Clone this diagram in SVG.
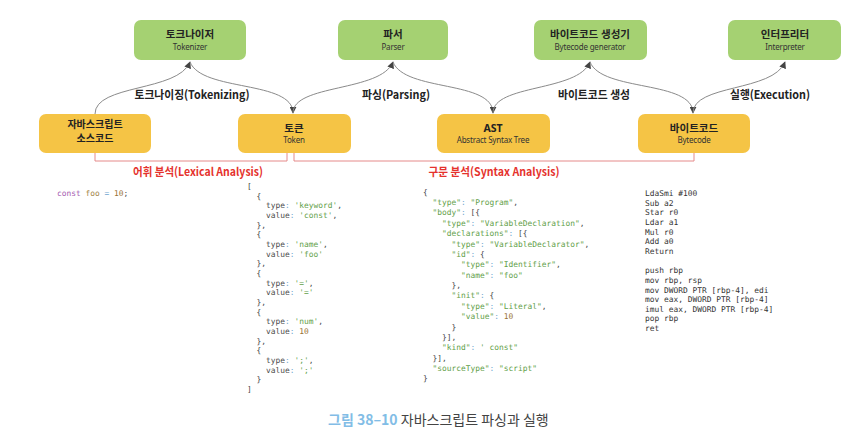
<svg xmlns="http://www.w3.org/2000/svg" width="859" height="438" viewBox="0 0 859 438">
<defs>
<style>
.g{fill:#a5d172}
.y{fill:#f5c445}
.t{font-family:"Noto Sans","Noto Sans CJK KR",sans-serif;font-weight:bold;font-size:10.5px;fill:#222;text-anchor:middle}
.t2{font-family:"Noto Sans","Noto Sans CJK KR",sans-serif;font-weight:bold;font-size:10px;fill:#222;text-anchor:middle}
.s{font-family:"Noto Sans","Noto Sans CJK KR",sans-serif;font-size:8px;fill:#333;text-anchor:middle;letter-spacing:-0.2px}
.l{font-family:"Noto Sans CJK KR","Noto Sans",sans-serif;font-weight:bold;font-size:11.5px;fill:#222;text-anchor:middle}
.r{font-family:"Noto Sans CJK KR","Noto Sans",sans-serif;font-weight:bold;font-size:11.5px;fill:#e5322d;text-anchor:middle}
.c{fill:none;stroke:#8a8a8a;stroke-width:1}
.b{fill:none;stroke:#e58a8a;stroke-width:1}
.m{font-family:"DejaVu Sans Mono","Liberation Mono",monospace;font-size:7.9px;fill:#4a4a4a;white-space:pre}
.a{fill:#333}
.p{fill:#6fa6cf}.q{fill:#5fa048}.n{fill:#9a7234}.v{fill:#a45bb0}.o{fill:#a08040}
</style>
<marker id="ah" viewBox="0 0 10 10" refX="9" refY="5" markerWidth="7" markerHeight="7" orient="auto" markerUnits="userSpaceOnUse">
<path d="M0,0 L10,5 L0,10 z" fill="#444"/>
</marker>
</defs>
<rect width="859" height="438" fill="#fff"/>

<g id="connectors">
<path class="c" d="M95,114 C95,84 178,92 190,62" marker-end="url(#ah)"/>
<path class="c" d="M190,62 C202,92 293,80 293,113" marker-end="url(#ah)"/>
<path class="c" d="M293,113 C293,84 381,92 393,62" marker-end="url(#ah)"/>
<path class="c" d="M393,62 C405,92 493,80 493,113" marker-end="url(#ah)"/>
<path class="c" d="M493,113 C493,84 578,92 590,62" marker-end="url(#ah)"/>
<path class="c" d="M590,62 C602,92 693,80 693,113" marker-end="url(#ah)"/>
<path class="c" d="M693,113 C693,84 773,92 785,62" marker-end="url(#ah)"/>
<path class="b" d="M95,153 V161 H287 V153"/>
<path class="b" d="M294,153 V161 H694 V153"/>
</g>

<g id="tokenizer"><rect class="g" x="134" y="20" width="112" height="40" rx="7"/><text class="t" x="190" y="38">토크나이저</text><text class="s" x="190" y="50">Tokenizer</text></g>
<g id="parser"><rect class="g" x="338" y="20" width="110" height="40" rx="7"/><text class="t" x="393" y="38">파서</text><text class="s" x="393" y="50">Parser</text></g>
<g id="generator"><rect class="g" x="534" y="20" width="113" height="40" rx="7"/><text class="t" x="590" y="38">바이트코드 생성기</text><text class="s" x="590" y="50">Bytecode generator</text></g>
<g id="interpreter"><rect class="g" x="728" y="20" width="113" height="40" rx="7"/><text class="t" x="785" y="38">인터프리터</text><text class="s" x="785" y="50">Interpreter</text></g>

<g id="source"><rect class="y" x="39" y="114" width="112" height="39" rx="7"/><text class="t2" x="95" y="128">자바스크립트</text><text class="t2" x="95" y="142">소스코드</text></g>
<g id="token"><rect class="y" x="238" y="114" width="113" height="39" rx="7"/><text class="t" x="294" y="132">토큰</text><text class="s" x="294" y="143">Token</text></g>
<g id="ast"><rect class="y" x="437" y="114" width="113" height="39" rx="7"/><text class="t" x="493" y="132">AST</text><text class="s" x="493" y="143">Abstract Syntax Tree</text></g>
<g id="bytecode"><rect class="y" x="638" y="114" width="112" height="39" rx="7"/><text class="t" x="694" y="132">바이트코드</text><text class="s" x="694" y="143">Bytecode</text></g>

<g id="labels">
<text class="l" x="192" y="99" textLength="115" lengthAdjust="spacingAndGlyphs">토크나이징(Tokenizing)</text>
<text class="l" x="396" y="99" textLength="68" lengthAdjust="spacingAndGlyphs">파싱(Parsing)</text>
<text class="l" x="594" y="99" textLength="72" lengthAdjust="spacingAndGlyphs">바이트코드 생성</text>
<text class="l" x="770" y="99" textLength="80" lengthAdjust="spacingAndGlyphs">실행(Execution)</text>
<text class="r" x="198" y="176" textLength="130" lengthAdjust="spacingAndGlyphs">어휘 분석(Lexical Analysis)</text>
<text class="r" x="494" y="176" textLength="131" lengthAdjust="spacingAndGlyphs">구문 분석(Syntax Analysis)</text>
</g>

<g id="source-code">
<text class="m" x="57" y="196"><tspan class="v">const</tspan> <tspan class="o">foo</tspan> <tspan class="p">=</tspan> <tspan class="n">10</tspan>;</text>
</g>

<g id="tokens">
<text class="m" x="247" y="189">[</text>
<text class="m" x="247" y="198.7">  {</text>
<text class="m" x="247" y="208.3">    type<tspan class="p">:</tspan> <tspan class="q">'keyword'</tspan>,</text>
<text class="m" x="247" y="218">    value<tspan class="p">:</tspan> <tspan class="q">'const'</tspan>,</text>
<text class="m" x="247" y="227.7">  },</text>
<text class="m" x="247" y="237.4">  {</text>
<text class="m" x="247" y="247">    type<tspan class="p">:</tspan> <tspan class="q">'name'</tspan>,</text>
<text class="m" x="247" y="256.7">    value<tspan class="p">:</tspan> <tspan class="q">'foo'</tspan></text>
<text class="m" x="247" y="266.4">  },</text>
<text class="m" x="247" y="276">  {</text>
<text class="m" x="247" y="285.7">    type<tspan class="p">:</tspan> <tspan class="q">'='</tspan>,</text>
<text class="m" x="247" y="295.4">    value<tspan class="p">:</tspan> <tspan class="q">'='</tspan></text>
<text class="m" x="247" y="305">  },</text>
<text class="m" x="247" y="314.7">  {</text>
<text class="m" x="247" y="324.4">    type<tspan class="p">:</tspan> <tspan class="q">'num'</tspan>,</text>
<text class="m" x="247" y="334">    value<tspan class="p">:</tspan> <tspan class="n">10</tspan></text>
<text class="m" x="247" y="343.7">  },</text>
<text class="m" x="247" y="353.4">  {</text>
<text class="m" x="247" y="363">    type<tspan class="p">:</tspan> <tspan class="q">';'</tspan>,</text>
<text class="m" x="247" y="372.7">    value<tspan class="p">:</tspan> <tspan class="q">';'</tspan></text>
<text class="m" x="247" y="382.4">  }</text>
<text class="m" x="247" y="392">]</text>
</g>

<g id="ast-json">
<text class="m" x="423" y="194.7">{</text>
<text class="m" x="423" y="205.1">  <tspan class="q">"type"</tspan><tspan class="p">:</tspan> <tspan class="q">"Program"</tspan>,</text>
<text class="m" x="423" y="215.4">  <tspan class="q">"body"</tspan><tspan class="p">:</tspan> [{</text>
<text class="m" x="423" y="225.8">    <tspan class="q">"type"</tspan><tspan class="p">:</tspan> <tspan class="q">"VariableDeclaration"</tspan>,</text>
<text class="m" x="423" y="236.2">    <tspan class="q">"declarations"</tspan><tspan class="p">:</tspan> [{</text>
<text class="m" x="423" y="246.5">      <tspan class="q">"type"</tspan><tspan class="p">:</tspan> <tspan class="q">"VariableDeclarator"</tspan>,</text>
<text class="m" x="423" y="256.9">      <tspan class="q">"id"</tspan><tspan class="p">:</tspan> {</text>
<text class="m" x="423" y="267.3">        <tspan class="q">"type"</tspan><tspan class="p">:</tspan> <tspan class="q">"Identifier"</tspan>,</text>
<text class="m" x="423" y="277.7">        <tspan class="q">"name"</tspan><tspan class="p">:</tspan> <tspan class="q">"foo"</tspan></text>
<text class="m" x="423" y="288">      },</text>
<text class="m" x="423" y="298.4">      <tspan class="q">"init"</tspan><tspan class="p">:</tspan> {</text>
<text class="m" x="423" y="308.8">        <tspan class="q">"type"</tspan><tspan class="p">:</tspan> <tspan class="q">"Literal"</tspan>,</text>
<text class="m" x="423" y="319.1">        <tspan class="q">"value"</tspan><tspan class="p">:</tspan> <tspan class="n">10</tspan></text>
<text class="m" x="423" y="329.5">      }</text>
<text class="m" x="423" y="339.9">    }],</text>
<text class="m" x="423" y="350.2">    <tspan class="q">"kind"</tspan><tspan class="p">:</tspan> <tspan class="q">' const"</tspan></text>
<text class="m" x="423" y="360.6">  }],</text>
<text class="m" x="423" y="371">  <tspan class="q">"sourceType"</tspan><tspan class="p">:</tspan> <tspan class="q">"script"</tspan></text>
<text class="m" x="423" y="381.3">}</text>
</g>

<g id="machine-code">
<text class="m a" x="645" y="196">LdaSmi #100</text>
<text class="m a" x="645" y="205.6">Sub a2</text>
<text class="m a" x="645" y="215.3">Star r0</text>
<text class="m a" x="645" y="225">Ldar a1</text>
<text class="m a" x="645" y="234.6">Mul r0</text>
<text class="m a" x="645" y="244.2">Add a0</text>
<text class="m a" x="645" y="253.9">Return</text>
<text class="m a" x="645" y="273.2">push rbp</text>
<text class="m a" x="645" y="282.8">mov rbp, rsp</text>
<text class="m a" x="645" y="292.5">mov DWORD PTR [rbp-4], edi</text>
<text class="m a" x="645" y="302.1">mov eax, DWORD PTR [rbp-4]</text>
<text class="m a" x="645" y="311.8">imul eax, DWORD PTR [rbp-4]</text>
<text class="m a" x="645" y="321.4">pop rbp</text>
<text class="m a" x="645" y="331">ret</text>
</g>

<g id="caption">
<text x="328" y="425" style="font-family:'Noto Sans CJK KR','Noto Sans',sans-serif;font-size:14px;font-weight:bold;fill:#82bde6">그림 38–10 <tspan style="fill:#444;font-weight:normal">자바스크립트 파싱과 실행</tspan></text>
</g>
</svg>
